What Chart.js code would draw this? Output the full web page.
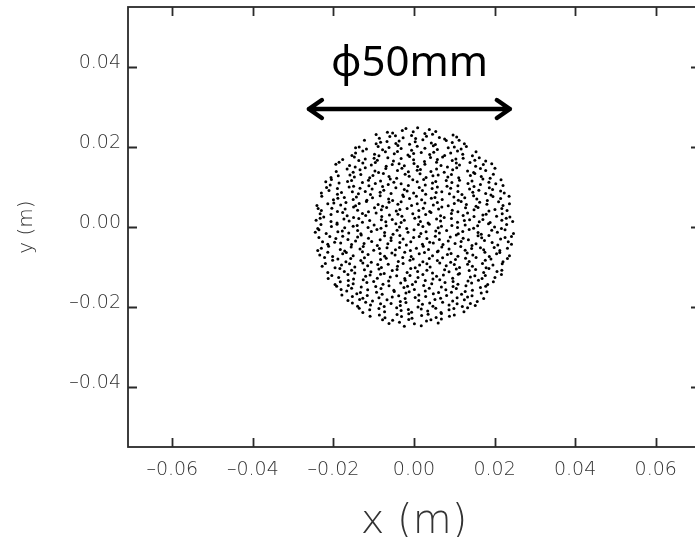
<!DOCTYPE html>
<html>
<head>
<meta charset="utf-8">
<script src="https://cdn.jsdelivr.net/npm/chart.js@4.4.1/dist/chart.umd.min.js"></script>
<style>
  html, body { margin: 0; padding: 0; background: #fff; }
  #wrap { width: 695px; height: 537px; overflow: hidden; }
  canvas { display: block; }
</style>
</head>
<body>
<div id="wrap"><canvas id="beamChart" width="705" height="560"></canvas></div>
<script>
// axis ticks (m)
const xTicks = [-0.06, -0.04, -0.02, 0, 0.02, 0.04, 0.06];
const yTicks = [-0.04, -0.02, 0, 0.02, 0.04];
const xLabels = ['–0.06', '–0.04', '–0.02', '0.00', '0.02', '0.04', '0.06'];
const yLabels = ['–0.04', '–0.02', '0.00', '0.02', '0.04'];

// particle positions in mm (x, y), placed row by row over the 50 mm spot
const particlesMm = [
  [-6.6,23.7],[-5.3,23.5],[-2.9,24.1],[-2.0,24.6],[-0.2,23.8],[0.9,24.8],[2.7,23.4],[3.8,24.4],[5.4,23.9],
  [-9.4,23.1],[-8.6,22.2],[-6.0,22.6],[-4.6,22.8],[-2.7,22.3],[-0.6,22.9],[0.4,22.1],[3.1,22.7],[4.6,23.2],[6.3,22.4],[7.6,22.0],[9.7,23.0],[10.6,22.5],
  [-12.3,21.7],[-9.4,20.8],[-8.3,21.2],[-6.7,21.4],[-4.5,20.9],[-3.7,21.5],[-1.1,20.7],[0.3,21.3],[2.2,21.8],[4.3,21.0],[5.3,20.6],[8.0,21.6],[9.5,21.1],[11.2,21.7],[12.5,20.8],
  [-14.5,19.8],[-13.6,20.0],[-11.8,19.5],[-8.9,20.1],[-7.8,19.3],[-6.2,19.9],[-4.0,20.4],[-3.2,19.6],[-0.6,19.2],[0.8,20.2],[2.7,19.7],[4.8,20.3],[5.8,19.4],[8.5,19.8],[10.0,20.0],[11.7,19.5],[13.0,20.1],
  [-15.4,17.9],[-14.5,18.5],[-12.7,19.0],[-9.8,18.2],[-8.7,17.8],[-7.1,18.8],[-4.9,18.3],[-4.1,18.9],[-1.5,18.0],[-0.1,18.4],[1.8,18.6],[3.9,18.1],[4.9,18.7],[7.6,17.9],[9.1,18.5],[10.8,19.0],[12.1,18.2],[14.5,17.8],[15.4,18.8],
  [-17.7,16.9],[-14.8,17.5],[-13.7,16.6],[-12.1,17.0],[-9.9,17.2],[-9.1,16.7],[-6.5,17.3],[-5.1,16.5],[-3.2,17.1],[-1.1,17.6],[-0.1,16.8],[2.6,16.4],[4.1,17.4],[5.8,16.9],[7.1,17.5],[9.5,16.6],[10.4,17.0],[12.2,17.2],[15.1,16.7],[16.2,17.3],[17.8,16.5],
  [-19.4,15.7],[-18.6,16.2],[-16.0,15.4],[-14.6,15.0],[-12.7,16.0],[-10.6,15.5],[-9.6,16.1],[-6.9,15.2],[-5.4,15.6],[-3.7,15.8],[-2.4,15.3],[0.0,15.9],[0.9,15.1],[2.7,15.7],[5.6,16.2],[6.7,15.4],[8.3,15.0],[10.5,16.0],[11.3,15.5],[13.9,16.1],[15.3,15.2],[17.2,15.6],[19.3,15.8],
  [-19.3,13.9],[-16.6,14.5],[-15.1,13.7],[-13.4,14.3],[-12.1,14.8],[-9.7,14.0],[-8.8,13.6],[-7.0,14.6],[-4.1,14.1],[-3.0,14.7],[-1.4,13.8],[0.8,14.2],[1.6,14.4],[4.2,13.9],[5.6,14.5],[7.5,13.7],[9.6,14.3],[10.6,14.8],[13.3,14.0],[14.8,13.6],[16.5,14.6],[17.8,14.1],[20.1,14.7],
  [-20.6,12.4],[-18.8,12.8],[-15.9,13.0],[-14.8,12.5],[-13.2,13.1],[-11.0,12.3],[-10.2,12.9],[-7.6,13.4],[-6.2,12.6],[-4.3,12.2],[-2.2,13.2],[-1.2,12.7],[1.5,13.3],[3.0,12.4],[4.7,12.8],[6.0,13.0],[8.4,12.5],[9.3,13.1],[11.1,12.3],[14.0,12.9],[15.1,13.4],[16.7,12.6],[18.9,12.2],[19.7,13.2],
  [-21.9,11.3],[-20.5,11.9],[-18.6,11.0],[-16.5,11.4],[-15.5,11.6],[-12.8,11.1],[-11.3,11.7],[-9.6,10.9],[-8.3,11.5],[-5.9,12.0],[-5.0,11.2],[-3.2,10.8],[-0.3,11.8],[0.8,11.3],[2.4,11.9],[4.6,11.0],[5.4,11.4],[8.0,11.6],[9.4,11.1],[11.3,11.7],[13.4,10.9],[14.4,11.5],[17.1,12.0],[18.6,11.2],[20.3,10.8],[21.6,11.8],
  [-21.7,9.9],[-20.8,10.5],[-19.0,9.6],[-16.1,10.0],[-15.0,10.2],[-13.4,9.7],[-11.2,10.3],[-10.4,9.5],[-7.8,10.1],[-6.4,10.6],[-4.5,9.8],[-2.4,9.4],[-1.4,10.4],[1.3,9.9],[2.8,10.5],[4.5,9.6],[5.8,10.0],[8.2,10.2],[9.1,9.7],[10.9,10.3],[13.8,9.5],[14.9,10.1],[16.5,10.6],[18.7,9.8],[19.5,9.4],[22.1,10.4],
  [-23.0,8.5],[-21.1,9.1],[-19.0,8.2],[-18.0,8.6],[-15.3,8.8],[-13.8,8.3],[-12.1,8.9],[-10.8,8.1],[-8.4,8.7],[-7.5,9.2],[-5.7,8.4],[-2.8,8.0],[-1.7,9.0],[-0.1,8.5],[2.1,9.1],[2.9,8.2],[5.5,8.6],[6.9,8.8],[8.8,8.3],[10.9,8.9],[11.9,8.1],[14.6,8.7],[16.1,9.2],[17.8,8.4],[19.1,8.0],[21.5,9.0],[22.4,8.5],
  [-22.9,7.7],[-20.0,6.8],[-18.9,7.2],[-17.3,7.4],[-15.1,6.9],[-14.3,7.5],[-11.7,6.7],[-10.3,7.3],[-8.4,7.8],[-6.3,7.0],[-5.3,6.6],[-2.6,7.6],[-1.1,7.1],[0.6,7.7],[1.9,6.8],[4.3,7.2],[5.2,7.4],[7.0,6.9],[9.9,7.5],[11.0,6.7],[12.6,7.3],[14.8,7.8],[15.6,7.0],[18.2,6.6],[19.6,7.6],[21.5,7.1],[23.6,7.7],
  [-24.1,5.4],[-21.4,5.8],[-19.9,6.0],[-18.2,5.5],[-16.9,6.1],[-14.5,5.3],[-13.6,5.9],[-11.8,6.4],[-8.9,5.6],[-7.8,5.2],[-6.2,6.2],[-4.0,5.7],[-3.2,6.3],[-0.6,5.4],[0.8,5.8],[2.7,6.0],[4.8,5.5],[5.8,6.1],[8.5,5.3],[10.0,5.9],[11.7,6.4],[13.0,5.6],[15.4,5.2],[16.3,6.2],[18.1,5.7],[21.0,6.3],[22.1,5.4],[23.7,5.8],
  [-23.8,4.6],[-23.0,4.1],[-20.4,4.7],[-19.0,3.9],[-17.1,4.5],[-15.0,5.0],[-14.0,4.2],[-11.3,3.8],[-9.8,4.8],[-8.1,4.3],[-6.8,4.9],[-4.4,4.0],[-3.5,4.4],[-1.7,4.6],[1.2,4.1],[2.3,4.7],[3.9,3.9],[6.1,4.5],[6.9,5.0],[9.5,4.2],[10.9,3.8],[12.8,4.8],[14.9,4.3],[15.9,4.9],[18.6,4.0],[20.1,4.4],[21.8,4.6],[23.1,4.1],
  [-23.3,3.3],[-22.4,2.5],[-20.6,3.1],[-17.7,3.6],[-16.6,2.8],[-15.0,2.4],[-12.8,3.4],[-12.0,2.9],[-9.4,3.5],[-8.0,2.6],[-6.1,3.0],[-4.0,3.2],[-3.0,2.7],[-0.3,3.3],[1.2,2.5],[2.9,3.1],[4.2,3.6],[6.6,2.8],[7.5,2.4],[9.3,3.4],[12.2,2.9],[13.3,3.5],[14.9,2.6],[17.1,3.0],[17.9,3.2],[20.5,2.7],[21.9,3.3],[23.8,2.5],
  [-24.3,1.7],[-23.3,2.2],[-20.6,1.4],[-19.1,1.0],[-17.4,2.0],[-16.1,1.5],[-13.7,2.1],[-12.8,1.2],[-11.0,1.6],[-8.1,1.8],[-7.0,1.3],[-5.4,1.9],[-3.2,1.1],[-2.4,1.7],[0.2,2.2],[1.6,1.4],[3.5,1.0],[5.6,2.0],[6.6,1.5],[9.3,2.1],[10.8,1.2],[12.5,1.6],[13.8,1.8],[16.2,1.3],[17.1,1.9],[18.9,1.1],[21.8,1.7],[22.9,2.2],[24.5,1.4],
  [-23.9,-0.4],[-23.1,0.6],[-20.5,0.1],[-19.1,0.7],[-17.2,-0.2],[-15.1,0.2],[-14.1,0.4],[-11.4,-0.1],[-9.9,0.5],[-8.2,-0.3],[-6.9,0.3],[-4.5,0.8],[-3.6,0.0],[-1.8,-0.4],[1.1,0.6],[2.2,0.1],[3.8,0.7],[6.0,-0.2],[6.8,0.2],[9.4,0.4],[10.8,-0.1],[12.7,0.5],[14.8,-0.3],[15.8,0.3],[18.5,0.8],[20.0,0.0],[21.7,-0.4],[23.0,0.6],
  [-24.5,-1.3],[-23.6,-0.7],[-21.8,-1.6],[-18.9,-1.2],[-17.8,-1.0],[-16.2,-1.5],[-14.0,-0.9],[-13.2,-1.7],[-10.6,-1.1],[-9.2,-0.6],[-7.3,-1.4],[-5.2,-1.8],[-4.2,-0.8],[-1.5,-1.3],[0.0,-0.7],[1.7,-1.6],[3.0,-1.2],[5.4,-1.0],[6.3,-1.5],[8.1,-0.9],[11.0,-1.7],[12.1,-1.1],[13.7,-0.6],[15.9,-1.4],[16.7,-1.8],[19.3,-0.8],[20.7,-1.3],[22.6,-0.7],[24.7,-1.6],
  [-23.6,-2.6],[-20.9,-2.4],[-19.4,-2.9],[-17.7,-2.3],[-16.4,-3.1],[-14.0,-2.5],[-13.1,-2.0],[-11.3,-2.8],[-8.4,-3.2],[-7.3,-2.2],[-5.7,-2.7],[-3.5,-2.1],[-2.7,-3.0],[-0.1,-2.6],[1.3,-2.4],[3.2,-2.9],[5.3,-2.3],[6.3,-3.1],[9.0,-2.5],[10.5,-2.0],[12.2,-2.8],[13.5,-3.2],[15.9,-2.2],[16.8,-2.7],[18.6,-2.1],[21.5,-3.0],[22.6,-2.6],[24.2,-2.4],
  [24.2,-4.3],[23.4,-3.7],[20.8,-4.5],[19.4,-3.9],[17.5,-3.4],[15.4,-4.2],[14.4,-4.6],[11.7,-3.6],[10.2,-4.1],[8.5,-3.5],[7.2,-4.4],[4.8,-4.0],[3.9,-3.8],[2.1,-4.3],[-0.8,-3.7],[-1.9,-4.5],[-3.5,-3.9],[-5.7,-3.4],[-6.5,-4.2],[-9.1,-4.6],[-10.5,-3.6],[-12.4,-4.1],[-14.5,-3.5],[-15.5,-4.4],[-18.2,-4.0],[-19.7,-3.8],[-21.4,-4.3],[-22.7,-3.7],
  [-23.9,-5.9],[-23.0,-5.3],[-21.2,-4.8],[-18.3,-5.6],[-17.2,-6.0],[-15.6,-5.0],[-13.4,-5.5],[-12.6,-4.9],[-10.0,-5.8],[-8.6,-5.4],[-6.7,-5.2],[-4.6,-5.7],[-3.6,-5.1],[-0.9,-5.9],[0.6,-5.3],[2.3,-4.8],[3.6,-5.6],[6.0,-6.0],[6.9,-5.0],[8.7,-5.5],[11.6,-4.9],[12.7,-5.8],[14.3,-5.4],[16.5,-5.2],[17.3,-5.7],[19.9,-5.1],[21.3,-5.9],[23.2,-5.3],
  [-23.4,-7.0],[-21.4,-6.3],[-20.2,-7.4],[-17.7,-6.7],[-16.8,-6.4],[-15.1,-7.2],[-12.8,-6.2],[-11.4,-6.9],[-8.4,-6.6],[-7.3,-7.3],[-5.5,-6.5],[-4.7,-7.0],[-2.3,-6.3],[-0.7,-7.4],[1.3,-6.7],[2.6,-6.4],[4.6,-7.2],[5.8,-6.2],[8.3,-6.9],[9.2,-6.6],[10.9,-7.3],[13.2,-6.5],[14.6,-7.0],[17.6,-6.3],[18.7,-7.4],[20.5,-6.7],[21.3,-6.4],[23.7,-7.2],
  [-22.2,-7.6],[-20.2,-8.3],[-18.9,-8.0],[-16.9,-8.7],[-15.7,-7.9],[-13.2,-8.4],[-12.3,-7.7],[-10.6,-8.8],[-8.3,-8.1],[-6.9,-7.8],[-3.9,-8.6],[-2.8,-7.6],[-1.0,-8.3],[-0.2,-8.0],[2.2,-8.7],[3.8,-7.9],[5.8,-8.4],[7.1,-7.7],[9.1,-8.8],[10.3,-8.1],[12.8,-7.8],[13.7,-8.6],[15.4,-7.6],[17.7,-8.3],[19.1,-8.0],[22.1,-8.7],[23.2,-7.9],
  [-22.8,-9.8],[-22.0,-9.1],[-19.6,-10.2],[-18.0,-9.5],[-16.0,-9.2],[-14.7,-10.0],[-12.7,-9.0],[-11.5,-9.7],[-9.0,-9.4],[-8.1,-10.1],[-6.4,-9.3],[-4.1,-9.8],[-2.7,-9.1],[0.3,-10.2],[1.4,-9.5],[3.2,-9.2],[4.0,-10.0],[6.4,-9.0],[8.0,-9.7],[10.0,-9.4],[11.3,-10.1],[13.3,-9.3],[14.5,-9.8],[17.0,-9.1],[17.9,-10.2],[19.6,-9.5],[21.9,-9.2],
  [-21.4,-11.4],[-18.4,-10.4],[-17.3,-11.1],[-15.5,-10.8],[-14.7,-11.5],[-12.3,-10.7],[-10.7,-11.2],[-8.7,-10.5],[-7.4,-11.6],[-5.4,-10.9],[-4.2,-10.6],[-1.7,-11.4],[-0.8,-10.4],[0.9,-11.1],[3.2,-10.8],[4.6,-11.5],[7.6,-10.7],[8.7,-11.2],[10.5,-10.5],[11.3,-11.6],[13.7,-10.9],[15.3,-10.6],[17.3,-11.4],[18.6,-10.4],[20.6,-11.1],[21.8,-10.8],
  [-21.3,-12.9],[-20.4,-12.1],[-18.7,-12.6],[-16.4,-11.9],[-15.0,-13.0],[-12.0,-12.3],[-10.9,-12.0],[-9.1,-12.8],[-8.3,-11.8],[-5.9,-12.5],[-4.3,-12.2],[-2.3,-12.9],[-1.0,-12.1],[1.0,-12.6],[2.2,-11.9],[4.7,-13.0],[5.6,-12.3],[7.3,-12.0],[9.6,-12.8],[11.0,-11.8],[14.0,-12.5],[15.1,-12.2],[16.9,-12.9],[17.7,-12.1],[20.1,-12.6],[21.7,-11.9],
  [-19.6,-14.4],[-18.3,-13.7],[-16.3,-13.4],[-15.1,-14.2],[-12.6,-13.2],[-11.7,-13.9],[-10.0,-13.6],[-7.7,-14.3],[-6.3,-13.5],[-3.3,-14.0],[-2.2,-13.3],[-0.4,-14.4],[0.4,-13.7],[2.8,-13.4],[4.4,-14.2],[6.4,-13.2],[7.7,-13.9],[9.7,-13.6],[10.9,-14.3],[13.4,-13.5],[14.3,-14.0],[16.0,-13.3],[18.3,-14.4],[19.7,-13.7],
  [-19.2,-14.8],[-18.1,-15.6],[-16.3,-14.6],[-15.5,-15.3],[-13.1,-15.0],[-11.5,-15.7],[-9.5,-14.9],[-8.2,-15.4],[-6.2,-14.7],[-5.0,-15.8],[-2.5,-15.1],[-1.6,-14.8],[0.1,-15.6],[2.4,-14.6],[3.8,-15.3],[6.8,-15.0],[7.9,-15.7],[9.7,-14.9],[10.5,-15.4],[12.9,-14.7],[14.5,-15.8],[16.5,-15.1],[17.8,-14.8],
  [-17.9,-17.0],[-16.7,-16.0],[-14.2,-16.7],[-13.3,-16.4],[-11.6,-17.1],[-9.3,-16.3],[-7.9,-16.8],[-4.9,-16.1],[-3.8,-17.2],[-2.0,-16.5],[-1.2,-16.2],[1.2,-17.0],[2.8,-16.0],[4.8,-16.7],[6.1,-16.4],[8.1,-17.1],[9.3,-16.3],[11.8,-16.8],[12.7,-16.1],[14.4,-17.2],[16.7,-16.5],[18.1,-16.2],
  [-16.4,-18.4],[-15.3,-17.4],[-13.5,-18.1],[-12.7,-17.8],[-10.3,-18.5],[-8.7,-17.7],[-6.7,-18.2],[-5.4,-17.5],[-3.4,-18.6],[-2.2,-17.9],[0.3,-17.6],[1.2,-18.4],[2.9,-17.4],[5.2,-18.1],[6.6,-17.8],[9.6,-18.5],[10.7,-17.7],[12.5,-18.2],[13.3,-17.5],[15.7,-18.6],[17.3,-17.9],
  [-15.3,-19.0],[-14.0,-19.8],[-12.0,-18.8],[-10.8,-19.5],[-8.3,-19.2],[-7.4,-19.9],[-5.7,-19.1],[-3.4,-19.6],[-2.0,-18.9],[1.0,-20.0],[2.1,-19.3],[3.9,-19.0],[4.7,-19.8],[7.1,-18.8],[8.7,-19.5],[10.7,-19.2],[12.0,-19.9],[14.0,-19.1],[15.2,-19.6],
  [-13.6,-20.3],[-12.7,-21.4],[-11.0,-20.7],[-8.7,-20.4],[-7.3,-21.2],[-4.3,-20.2],[-3.2,-20.9],[-1.4,-20.6],[-0.6,-21.3],[1.8,-20.5],[3.4,-21.0],[5.4,-20.3],[6.7,-21.4],[8.7,-20.7],[9.9,-20.4],[12.4,-21.2],[13.3,-20.2],
  [-10.9,-22.3],[-8.6,-22.0],[-7.2,-22.7],[-4.2,-21.9],[-3.1,-22.4],[-1.3,-21.7],[-0.5,-22.8],[1.9,-22.1],[3.5,-21.8],[5.5,-22.6],[6.8,-21.6],[8.8,-22.3],[10.0,-22.0],
  [-7.8,-23.2],[-6.2,-24.1],[-5.3,-23.3],[-3.6,-23.8],[-2.4,-24.8],[-1.3,-23.1],[0.1,-24.2],[1.8,-24.7],[3.1,-23.5],[4.2,-23.2],[6.0,-24.0],[6.8,-23.0]
];

// diameter marker above the spot (m)
const arrowEnds = [-0.0266, 0.0243];
const arrowLevel = 0.0295;
const diameterText = 'ϕ50mm';
const diameterTextPos = [-0.0011, 0.0378];

const points = particlesMm.map(p => ({ x: p[0] / 1000, y: p[1] / 1000 }));

// frame, inward ticks on all four sides, and the arrow + label
const framePlugin = {
  id: 'frame',
  afterDraw(chart) {
    const ctx = chart.ctx;
    const a = chart.chartArea;
    const xs = chart.scales.x, ys = chart.scales.y;
    const tick = 9;
    ctx.save();
    ctx.strokeStyle = '#2a2a2a';
    ctx.lineWidth = 1.8;
    ctx.strokeRect(a.left, a.top, a.right - a.left, a.bottom - a.top);
    ctx.beginPath();
    xTicks.forEach(v => {
      const px = Math.round(xs.getPixelForValue(v)) + 0.5;
      ctx.moveTo(px, a.bottom); ctx.lineTo(px, a.bottom - tick);
      ctx.moveTo(px, a.top); ctx.lineTo(px, a.top + tick);
    });
    yTicks.forEach(v => {
      const py = Math.round(ys.getPixelForValue(v)) + 0.5;
      ctx.moveTo(a.left, py); ctx.lineTo(a.left + tick, py);
      ctx.moveTo(a.right, py); ctx.lineTo(a.right - tick, py);
    });
    ctx.stroke();

    // arrow
    const x0 = xs.getPixelForValue(arrowEnds[0]);
    const x1 = xs.getPixelForValue(arrowEnds[1]);
    const y = ys.getPixelForValue(arrowLevel);
    ctx.strokeStyle = '#000';
    ctx.lineWidth = 4.5;
    ctx.lineCap = 'round';
    ctx.lineJoin = 'round';
    ctx.beginPath();
    ctx.moveTo(x0 + 2, y); ctx.lineTo(x1 - 2, y);
    ctx.moveTo(x0 + 15, y - 9); ctx.lineTo(x0 + 2, y); ctx.lineTo(x0 + 15, y + 9);
    ctx.moveTo(x1 - 15, y - 9); ctx.lineTo(x1 - 2, y); ctx.lineTo(x1 - 15, y + 9);
    ctx.stroke();

    ctx.fillStyle = '#000';
    ctx.font = '42px "Noto Sans", "DejaVu Sans", sans-serif';
    ctx.textAlign = 'center';
    ctx.textBaseline = 'alphabetic';
    ctx.fillText(diameterText, xs.getPixelForValue(diameterTextPos[0]), ys.getPixelForValue(diameterTextPos[1]));
    ctx.restore();
  }
};

const tickFont = { family: 'DejaVu Sans', size: 19, weight: 200 };

new Chart(document.getElementById('beamChart'), {
  type: 'scatter',
  data: {
    datasets: [{
      data: points,
      pointRadius: 1.5,
      pointHoverRadius: 1.5,
      borderWidth: 0,
      backgroundColor: '#000'
    }]
  },
  options: {
    responsive: false,
    animation: false,
    events: [],
    layout: { padding: { top: 7, right: 5, left: 0, bottom: 0 } },
    plugins: { legend: { display: false }, tooltip: { enabled: false } },
    scales: {
      x: {
        type: 'linear',
        min: -0.071,
        max: 0.071,
        grid: { display: false, drawTicks: false, tickLength: 0 },
        border: { display: false },
        afterBuildTicks: s => { s.ticks = xTicks.map(v => ({ value: v })); },
        afterFit: s => { s.height = 113; s.paddingLeft = 0; s.paddingRight = 0; },
        ticks: {
          padding: 12,
          color: '#333',
          font: tickFont,
          maxRotation: 0,
          autoSkip: false,
          callback: (v, i) => xLabels[i]
        },
        title: {
          display: true,
          text: 'x (m)',
          color: '#333',
          font: { family: 'DejaVu Sans', size: 40, weight: 200 },
          padding: { top: 0, bottom: 13 }
        }
      },
      y: {
        type: 'linear',
        min: -0.055,
        max: 0.055,
        grid: { display: false, drawTicks: false, tickLength: 0 },
        border: { display: false },
        afterBuildTicks: s => { s.ticks = yTicks.map(v => ({ value: v })); },
        afterFit: s => { s.width = 128; s.paddingTop = 0; s.paddingBottom = 0; },
        ticks: {
          padding: 7,
          color: '#333',
          font: tickFont,
          labelOffset: -4,
          autoSkip: false,
          callback: (v, i) => yLabels[i]
        },
        title: {
          display: true,
          text: 'y (m)',
          color: '#333',
          font: { family: 'DejaVu Sans', size: 20, weight: 200 },
          padding: { top: 15, bottom: 0 }
        }
      }
    }
  },
  plugins: [framePlugin]
});
</script>
</body>
</html>
